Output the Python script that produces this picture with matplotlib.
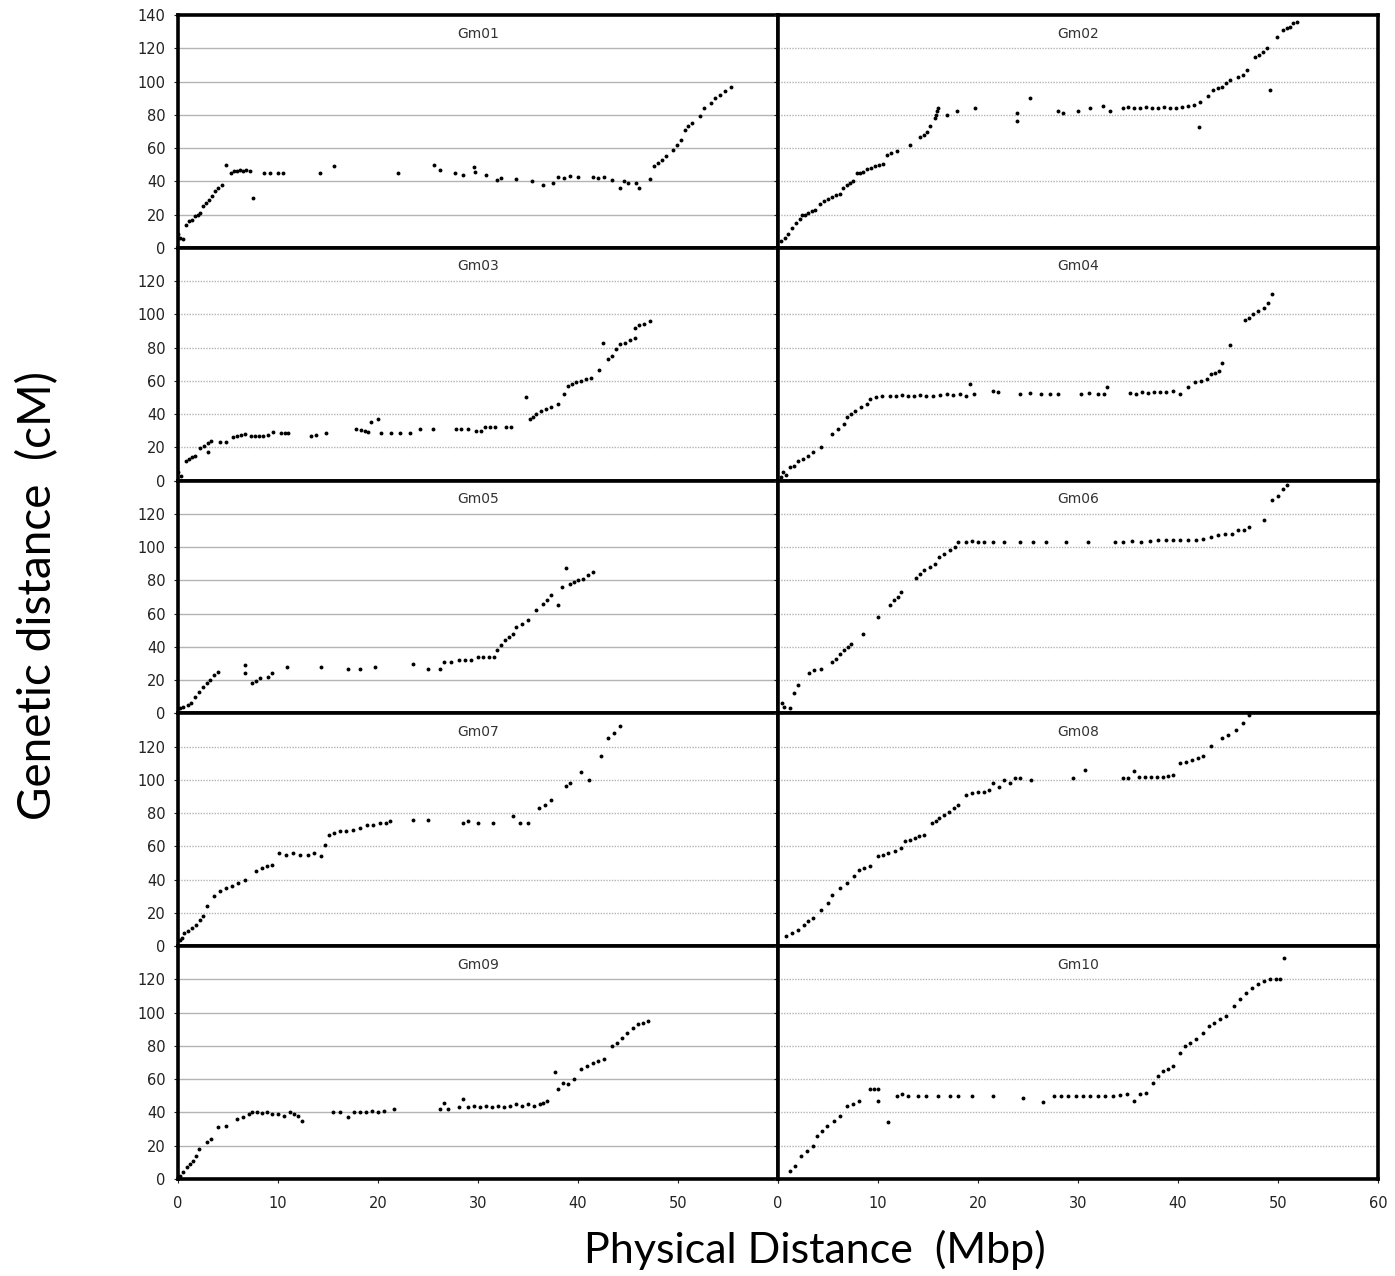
import matplotlib
matplotlib.use("Agg")
import matplotlib.pyplot as plt

# ---------------- data (Mbp, cM) ----------------
chrom_names = ["Gm01", "Gm02", "Gm03", "Gm04", "Gm05",
               "Gm06", "Gm07", "Gm08", "Gm09", "Gm10"]

gm01 = [(0.0, 8), (0.2, 6), (0.5, 5), (0.8, 14), (1.1, 16), (1.4, 17), (1.7, 19), (2.0, 20), (2.2, 21),
        (2.5, 25), (2.8, 27), (3.1, 29), (3.4, 31), (3.7, 34), (4.0, 36), (4.4, 38), (4.8, 50), (5.3, 45),
        (5.6, 46), (5.9, 46), (6.2, 47), (6.5, 46), (6.8, 47), (7.2, 46), (7.5, 30), (8.6, 45), (9.2, 45),
        (10.0, 45), (10.5, 45), (14.2, 45), (15.6, 49), (22.0, 45), (25.6, 50), (26.2, 47), (27.7, 45),
        (28.5, 44), (29.6, 48.5), (29.7, 45.5), (30.8, 44), (31.9, 40.5), (32.3, 42), (33.8, 41.5),
        (35.4, 40), (36.5, 38), (37.5, 39), (38.0, 42.5), (38.6, 42), (39.2, 43), (40.0, 42.5),
        (41.5, 42.5), (42.0, 42), (42.6, 42.5), (43.4, 41), (44.2, 36), (44.6, 40), (45.0, 39),
        (45.8, 39), (46.1, 36), (47.2, 41.5), (47.6, 49), (48.0, 51), (48.4, 53), (48.8, 55),
        (49.5, 59), (49.9, 62), (50.3, 65), (50.7, 71), (51.0, 73), (51.4, 75), (52.2, 79), (52.6, 84),
        (53.3, 87), (53.7, 90), (54.2, 92), (54.7, 94), (55.3, 97)]

gm02 = [(0.3, 4), (0.7, 6), (1.0, 8), (1.4, 12), (1.8, 15), (2.2, 17.5), (2.4, 19.5), (2.7, 20), (3.0, 21),
        (3.4, 22), (3.7, 22.5), (4.2, 26.5), (4.6, 28), (5.0, 29.5), (5.4, 30.5), (5.8, 31.5), (6.2, 32.5),
        (6.5, 36), (6.9, 37.5), (7.2, 39), (7.5, 40), (7.9, 45), (8.2, 45), (8.5, 45.5), (8.9, 47.5),
        (9.3, 48), (9.7, 49), (10.1, 50), (10.5, 50.5), (10.9, 56), (11.3, 57), (11.9, 58.5), (13.2, 62),
        (14.2, 66.5), (14.6, 68), (14.9, 69.5), (15.2, 73), (15.7, 78), (15.8, 80), (15.9, 82), (16.0, 84),
        (16.9, 80), (17.9, 82.5), (19.7, 84), (23.9, 81), (23.9, 76.5), (25.2, 90), (28.0, 82.5),
        (28.5, 81), (30.0, 82.5), (31.2, 84), (32.5, 85), (33.2, 82.5), (34.5, 84), (35.0, 84.5),
        (35.6, 84), (36.2, 84), (36.8, 84.5), (37.4, 84), (38.0, 84), (38.6, 84.5), (39.2, 84), (39.8, 84),
        (40.4, 84.5), (41.0, 85), (41.6, 86), (42.2, 87.5), (42.1, 72.5), (43.0, 91.5), (43.5, 95),
        (44.0, 96), (44.4, 97), (44.8, 99), (45.2, 101), (46.0, 103), (46.5, 104), (46.9, 107),
        (47.7, 115), (48.1, 116), (48.5, 118), (48.9, 120), (49.2, 95), (49.9, 127), (50.5, 131),
        (50.9, 132), (51.2, 133), (51.5, 135), (51.9, 136)]

gm03 = [(0.0, 5), (0.3, 3), (0.8, 12), (1.1, 13), (1.4, 14), (1.7, 15), (2.2, 19.5), (2.6, 21), (3.0, 22.5),
        (3.0, 17), (3.3, 24), (4.2, 23), (4.8, 23), (5.5, 26), (5.9, 27), (6.3, 27.5), (6.7, 28), (7.3, 27),
        (7.7, 27), (8.1, 27), (8.5, 27), (9.0, 27.5), (9.5, 29), (10.3, 28.5), (10.7, 28.5), (11.0, 28.5),
        (13.3, 27), (13.8, 27.5), (14.8, 28.5), (17.8, 31), (18.3, 30.5), (18.7, 30), (19.0, 29),
        (19.3, 35), (20.0, 37), (20.3, 28.5), (21.3, 28.5), (22.2, 28.5), (23.2, 28.5), (24.2, 31),
        (25.5, 31), (27.8, 31), (28.3, 31), (29.0, 31), (29.8, 30), (30.3, 30), (30.7, 32), (31.2, 32),
        (31.7, 32), (32.8, 32), (33.3, 32), (34.8, 50), (35.2, 37), (35.5, 38.5), (35.8, 40), (36.3, 42),
        (36.8, 43), (37.3, 44), (38.0, 46), (38.6, 52), (39.0, 57), (39.4, 58), (39.8, 59.5), (40.3, 60),
        (40.8, 61), (41.3, 62), (42.1, 66.5), (42.5, 83), (43.0, 73), (43.4, 75), (43.8, 79), (44.2, 82),
        (44.7, 83), (45.2, 84.5), (45.7, 86), (45.7, 92), (46.1, 93.5), (46.6, 94), (47.2, 96)]

gm04 = [(0.3, 2), (0.5, 5), (0.8, 3.5), (1.2, 8), (1.6, 9), (2.0, 12), (2.5, 13), (3.0, 15), (3.5, 17),
        (4.3, 20), (5.4, 28), (6.0, 31), (6.6, 34), (6.9, 38), (7.3, 40), (7.7, 42), (8.3, 44), (8.9, 46),
        (9.2, 49), (9.8, 50), (10.4, 51), (11.2, 51), (11.8, 51), (12.4, 51.5), (13.0, 51), (13.6, 51),
        (14.2, 51.5), (14.8, 51), (15.5, 51), (16.2, 51.5), (16.9, 52), (17.5, 51.5), (18.2, 52),
        (18.8, 51), (19.2, 58), (19.6, 52), (21.5, 54), (22.0, 53), (24.2, 52), (25.2, 52.5), (26.3, 52),
        (27.2, 52), (28.0, 52), (30.3, 52), (31.1, 52.5), (32.0, 52), (32.6, 52), (32.9, 56), (35.2, 52.5),
        (35.8, 52), (36.4, 53), (37.0, 52.5), (37.6, 53), (38.2, 53.5), (38.8, 53), (39.5, 54), (40.2, 52),
        (41.0, 56), (41.7, 59), (42.3, 60), (42.9, 61), (43.3, 64), (43.7, 65), (44.1, 66), (44.4, 71),
        (45.2, 81.5), (46.7, 96.5), (47.1, 98), (47.5, 100), (48.0, 102), (48.6, 104), (49.0, 107),
        (49.4, 112)]

gm05 = [(0.2, 3), (0.5, 4), (0.95, 5), (1.3, 6), (1.7, 10), (2.1, 13), (2.5, 16), (2.9, 18), (3.2, 20),
        (3.6, 23), (4.0, 25), (6.7, 29), (6.7, 24), (7.4, 18), (7.8, 19.5), (8.2, 21), (9.0, 22), (9.4, 24),
        (10.9, 28), (14.3, 28), (17.0, 26.5), (18.2, 26.5), (19.7, 28), (23.5, 29.5), (25.0, 27),
        (26.2, 27), (26.6, 31), (27.3, 31), (28.1, 32), (28.7, 32), (29.3, 32), (30.0, 34), (30.5, 34),
        (31.1, 34), (31.6, 34), (31.9, 38), (32.3, 41), (32.7, 44), (33.1, 46), (33.5, 48), (33.8, 52),
        (34.4, 54), (35.0, 56), (35.8, 62), (36.5, 66), (36.9, 68), (37.3, 71), (38.0, 65), (38.4, 76),
        (38.8, 87.5), (39.2, 78), (39.6, 79), (40.0, 80), (40.5, 81), (41.0, 83), (41.5, 85)]

gm06 = [(0.4, 6), (0.6, 4), (1.2, 3), (1.6, 12), (2.0, 17), (3.1, 24), (3.6, 26), (4.3, 27), (5.4, 31),
        (5.8, 33), (6.2, 36), (6.6, 38), (7.0, 40), (7.3, 42), (8.5, 48), (10.0, 58), (11.2, 65), (11.6, 68),
        (12.0, 70), (12.3, 73), (13.8, 81.5), (14.2, 84), (14.6, 86), (15.2, 88), (15.7, 90), (16.1, 94),
        (16.6, 96), (17.2, 98), (17.7, 100), (18.0, 103), (18.8, 103), (19.4, 103.5), (20.0, 103),
        (20.6, 103), (21.5, 103), (22.6, 103), (24.2, 103), (25.5, 103), (26.8, 103), (28.8, 103),
        (31.0, 103), (33.7, 103), (34.5, 103), (35.4, 103.5), (36.3, 103), (37.2, 103.5), (38.0, 104),
        (38.8, 104), (39.5, 104), (40.2, 104.5), (41.0, 104.5), (41.8, 104.5), (42.5, 105), (43.3, 106),
        (44.0, 107), (44.7, 108), (45.4, 108), (46.0, 110), (46.6, 110), (47.1, 112), (48.6, 116.5),
        (49.4, 128.5), (50.0, 131), (50.5, 135), (50.9, 137.6)]

gm07 = [(0.2, 3.6), (0.4, 5), (0.6, 8), (1.0, 9), (1.4, 11), (1.8, 13), (2.2, 16), (2.5, 18), (2.9, 24),
        (3.6, 30), (4.2, 33), (4.8, 35), (5.4, 36), (6.0, 38), (6.7, 40), (7.8, 45), (8.4, 47), (8.9, 48),
        (9.4, 49), (10.1, 56), (10.8, 55), (11.5, 56), (12.2, 55), (13.0, 55), (13.6, 56), (14.3, 54),
        (14.7, 61), (15.1, 67), (15.6, 68), (16.2, 69), (16.8, 69), (17.5, 70), (18.2, 71), (18.9, 73),
        (19.5, 73), (20.2, 74), (20.8, 74), (21.2, 75), (23.5, 76), (25.0, 76), (28.5, 74), (29.0, 75),
        (30.0, 74), (31.5, 74), (33.5, 78), (34.2, 74), (35.0, 74), (36.1, 83), (36.7, 85), (37.3, 88),
        (38.8, 96.5), (39.2, 98), (40.3, 105), (41.1, 100), (42.3, 114.5), (43.0, 125.5), (43.6, 128),
        (44.2, 132.5)]

gm08 = [(0.8, 6), (1.4, 8), (2.0, 10), (2.6, 13), (3.0, 15), (3.5, 17), (4.3, 22), (5.0, 26), (5.4, 31),
        (6.2, 35), (6.9, 38), (7.6, 42), (8.1, 46), (8.6, 47), (9.2, 48), (10.0, 54), (10.5, 55), (11.0, 56),
        (11.7, 57), (12.3, 59), (12.7, 63), (13.2, 64), (13.7, 65), (14.1, 66), (14.6, 67), (15.4, 74),
        (15.8, 75), (16.1, 77), (16.6, 79), (17.1, 81), (17.6, 83), (18.0, 85), (18.8, 91), (19.4, 92),
        (20.0, 93), (20.6, 93), (21.1, 94), (21.5, 98), (22.1, 96), (22.6, 100), (23.2, 98), (23.7, 101),
        (24.2, 101), (25.3, 100), (29.5, 101), (30.7, 106), (34.5, 101), (35.0, 101), (35.6, 105.5),
        (36.1, 101.5), (36.7, 102), (37.3, 101.5), (37.9, 102), (38.5, 102), (39.0, 102.5), (39.5, 103),
        (40.2, 110), (40.8, 111), (41.4, 112), (42.0, 113), (42.5, 114.5), (43.3, 120.5), (44.4, 125.5),
        (45.0, 127), (45.8, 130), (46.5, 134), (47.1, 139)]

gm09 = [(0.2, 2), (0.5, 4), (0.9, 7), (1.2, 9), (1.5, 11), (1.8, 14), (2.1, 18), (2.9, 22), (3.3, 24),
        (4.0, 31), (4.8, 32), (5.9, 36), (6.5, 37), (7.1, 39), (7.4, 40), (7.9, 40), (8.4, 39.5), (8.9, 40),
        (9.4, 39), (10.0, 39), (10.6, 38), (11.2, 40), (11.6, 39), (12.0, 38), (12.4, 35), (15.5, 40),
        (16.2, 40), (17.0, 37), (17.6, 40), (18.2, 40), (18.8, 40), (19.4, 41), (20.0, 40), (20.6, 41),
        (21.6, 42), (26.2, 42), (26.6, 46), (27.0, 42), (28.1, 43), (28.5, 48), (29.0, 43), (29.6, 44),
        (30.2, 43), (30.8, 44), (31.4, 43), (32.0, 44), (32.6, 43), (33.2, 44), (33.8, 45), (34.4, 44),
        (35.0, 45), (35.6, 44), (36.2, 45), (36.5, 46), (36.9, 47), (37.7, 64.5), (38.0, 54), (38.5, 58),
        (39.0, 57), (39.6, 60), (40.3, 66), (40.9, 68), (41.5, 70), (42.0, 71), (42.6, 72), (43.4, 80),
        (43.9, 82), (44.4, 85), (44.9, 88), (45.5, 91), (46.0, 93), (46.5, 94), (47.0, 95)]

gm10 = [(1.2, 5), (1.7, 8), (2.3, 14), (2.9, 17), (3.5, 20), (3.9, 26), (4.4, 29), (4.9, 32), (5.6, 35),
        (6.2, 38), (6.9, 44), (7.5, 45), (8.1, 47), (9.2, 54), (9.6, 54), (10.0, 54), (10.0, 47), (11.0, 34),
        (11.9, 50), (12.4, 51), (13.0, 50), (14.0, 50), (14.8, 50), (16.0, 50), (17.2, 50), (18.0, 50),
        (19.4, 50), (21.5, 50), (24.5, 49), (26.5, 46.5), (27.6, 50), (28.3, 50), (29.0, 50), (29.8, 50),
        (30.5, 50), (31.2, 50), (32.0, 50), (32.7, 50), (33.5, 50), (34.2, 50.5), (34.9, 51), (35.6, 47),
        (36.2, 51), (36.8, 52), (37.5, 58), (38.0, 62), (38.5, 65), (39.0, 66), (39.5, 68), (40.2, 76),
        (40.7, 80), (41.2, 82), (41.8, 84), (42.5, 88), (43.1, 92), (43.6, 94), (44.2, 96), (44.8, 98),
        (45.6, 104), (46.2, 108), (46.8, 112), (47.4, 115), (48.0, 117), (48.6, 119), (49.2, 120),
        (49.8, 120.5), (50.2, 120), (50.6, 133)]

chrom_data = [gm01, gm02, gm03, gm04, gm05, gm06, gm07, gm08, gm09, gm10]

y_ticks = [0, 20, 40, 60, 80, 100, 120, 140]
x_ticks = [0, 10, 20, 30, 40, 50, 60]
x_label = "Physical Distance  (Mbp)"
y_label = "Genetic distance  (cM)"

# ---------------- layout ----------------
W, H = 1395, 1276
fig = plt.figure(figsize=(W / 100, H / 100), dpi=100)

left_px = [178, 778]
panel_w = 600
top_px = 15
bottom_px = 1179
row_h = (bottom_px - top_px) / 5

tick_font = "DejaVu Sans"

for i, (name, pts) in enumerate(zip(chrom_names, chrom_data)):
    row, col = i // 2, i % 2
    x0 = left_px[col] / W
    y_top = top_px + row * row_h
    y0 = 1 - (y_top + row_h) / H
    ax = fig.add_axes([x0, y0, panel_w / W, row_h / H])
    xs = [p[0] for p in pts]
    ys = [p[1] for p in pts]
    ax.plot(xs, ys, linestyle="none", marker="o", markersize=2.8,
            markerfacecolor="black", markeredgewidth=0, zorder=3)
    ax.set_xlim(0, 60)
    ax.set_ylim(0, 140)
    ax.set_yticks(y_ticks)
    ax.set_xticks(x_ticks)
    ls = "-" if col == 0 and row in (0, 2, 4) else (0, (1, 1))
    for yv in y_ticks[1:-1]:
        ax.axhline(yv, color="#b4b4b4", linewidth=1.0, linestyle=ls, zorder=1)
    for sp in ax.spines.values():
        sp.set_linewidth(2.6)
        sp.set_color("black")
    ax.text(0.5, 0.95, name, transform=ax.transAxes, ha="center", va="top",
            fontsize=10, color="#333333", family=tick_font)
    ax.tick_params(axis="both", which="both", length=3, width=0.8,
                   labelsize=10.5, colors="#222222")
    ax.tick_params(axis="y", pad=6)
    ax.tick_params(axis="x", pad=9)
    # y labels
    if col == 0:
        labels = [str(v) for v in y_ticks]
        if row != 0:
            labels[-1] = ""
        ax.set_yticklabels(labels, family=tick_font)
    else:
        ax.tick_params(axis="y", labelleft=False)
    # x labels
    if row == 4:
        labels = [str(v) for v in x_ticks]
        if col == 0:
            labels[-1] = ""
        ax.set_xticklabels(labels, family=tick_font)
    else:
        ax.tick_params(axis="x", labelbottom=False)

fig.text(815 / W, 1 - 1250 / H, x_label, ha="center", va="center",
         fontsize=31, family="Lato", color="black")
fig.text(38 / W, 1 - 595 / H, y_label, ha="center", va="center",
         rotation=90, fontsize=33, family="Lato", color="black")

fig.savefig("out.png", dpi=100, facecolor="white")
